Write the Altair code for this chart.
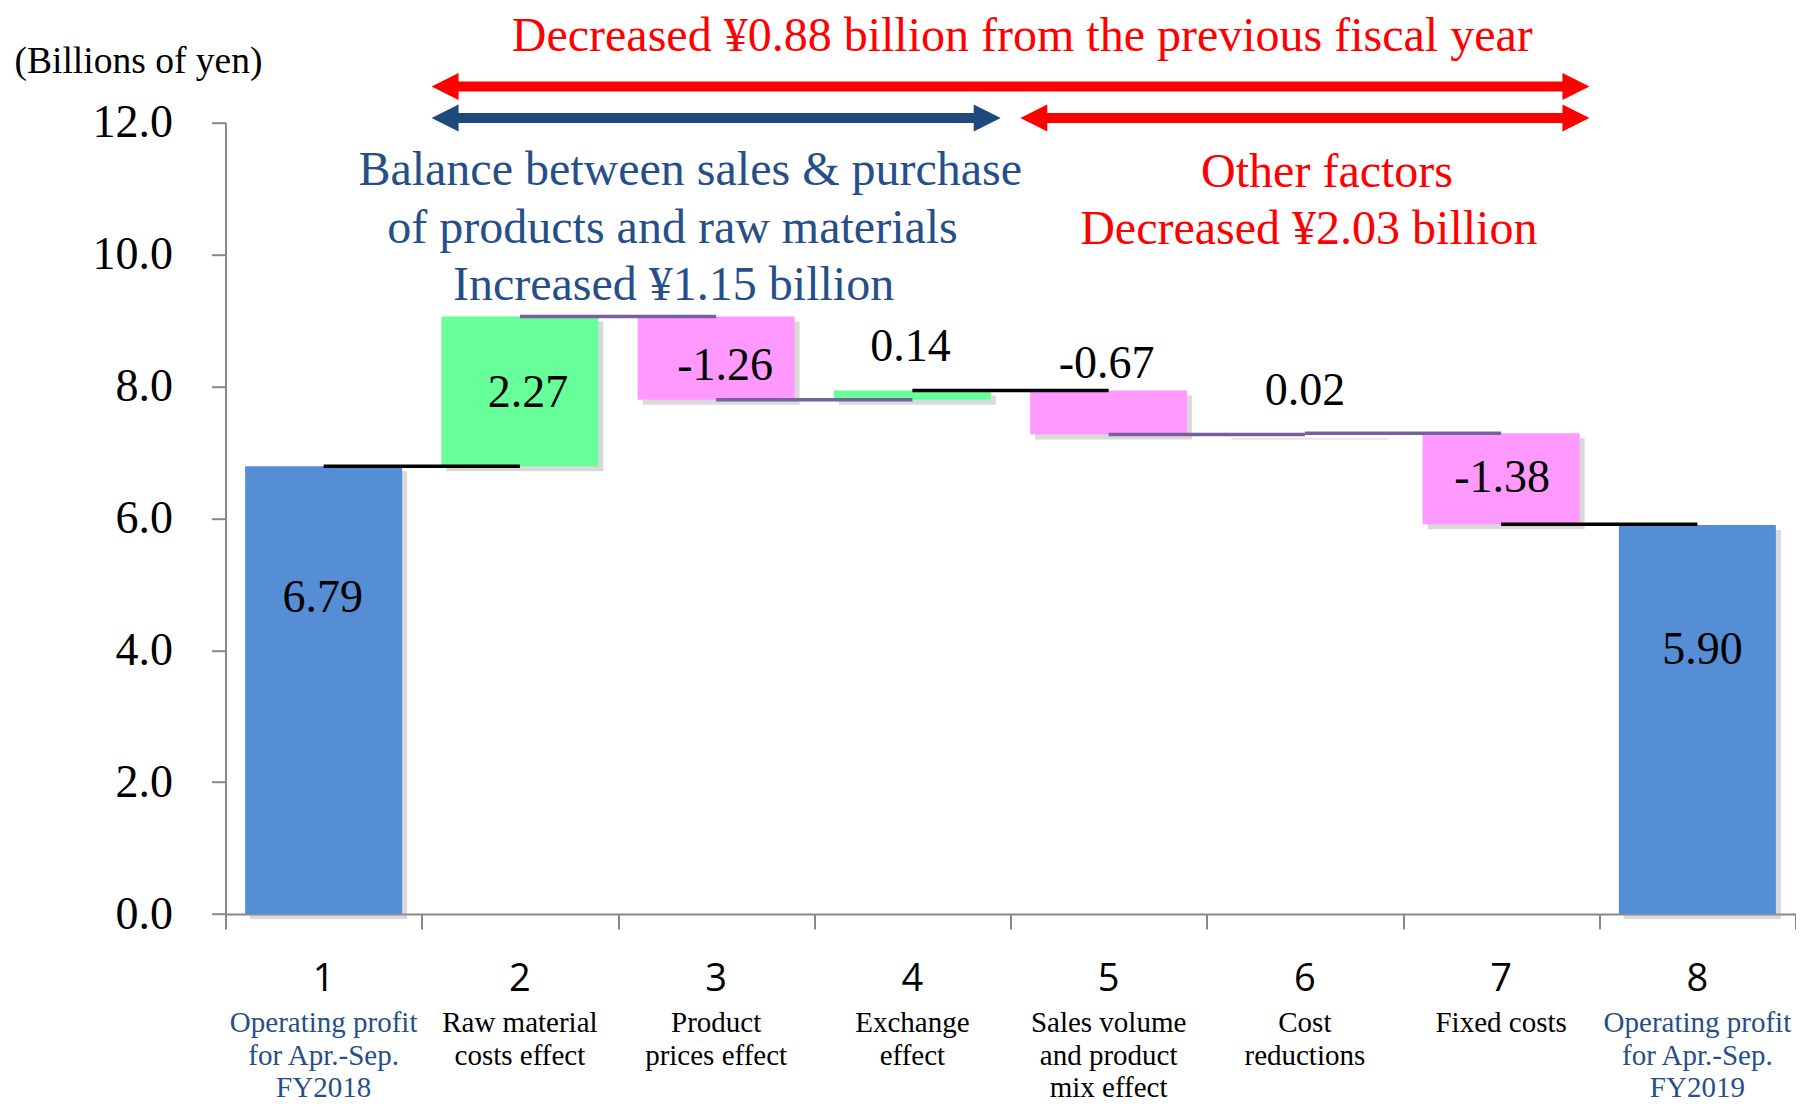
import altair as alt
import pandas as pd

# ---------------- data ----------------
categories = [1, 2, 3, 4, 5, 6, 7, 8]
category_names = [
    ["Operating profit", "for Apr.-Sep.", "FY2018"],
    ["Raw material", "costs effect"],
    ["Product", "prices effect"],
    ["Exchange", "effect"],
    ["Sales volume", "and product", "mix effect"],
    ["Cost", "reductions"],
    ["Fixed costs"],
    ["Operating profit", "for Apr.-Sep.", "FY2019"],
]
values = [6.79, 2.27, -1.26, 0.14, -0.67, 0.02, -1.38, 5.90]
is_total = [True, False, False, False, False, False, False, True]
value_labels = ["6.79", "2.27", "-1.26", "0.14", "-0.67", "0.02", "-1.38", "5.90"]
connector_colors = ["#000000", "#7A5F9E", "#7A5F9E", "#000000", "#7A5F9E", "#7A5F9E", "#000000"]

y_ticks = [0, 2, 4, 6, 8, 10, 12]
y_title = "(Billions of yen)"

# annotation arrows: spanning category groups
arrow_from = [2, 2, 5]
arrow_to = [7, 4, 7]
arrow_colors = ["#FF0000", "#1F497D", "#FF0000"]
arrow_levels = [12.55, 12.07, 12.07]

annot_text = [
    "Decreased ¥0.88 billion from the previous fiscal year",
    "Balance between sales & purchase",
    "of products and raw materials",
    "Increased ¥1.15 billion",
    "Other factors",
    "Decreased ¥2.03 billion",
]
annot_x = [4.56, 2.868, 2.778, 2.783, 6.113, 6.02]
annot_y = [13.30, 11.265, 10.39, 9.52, 11.23, 10.375]
annot_color = ["#FF0000", "#264F8A", "#264F8A", "#264F8A", "#FF0000", "#FF0000"]

# label nudges (pixels)
label_dx = [-1, 8, 9, -2, -2, 0, 1, 5]
label_dy = [-92, 2, 8, -43, -26, -42, -1, -69]

# ---------------- layout ----------------
W = 1570
H = 791.3
SERIF = "Liberation Serif"
GRAY = "#888888"
C_TOTAL, C_UP, C_DOWN = "#558ED5", "#66FF99", "#FF99FF"

# ---------------- build tables ----------------
rows = []
run = 0.0
for c, v, t in zip(categories, values, is_total):
    if t:
        s, e = 0.0, v
    else:
        s, e = run, run + v
    run = e
    kind = "total" if t else ("up" if v >= 0 else "down")
    rows.append(dict(cat=c, lo=c - 0.4, hi=c + 0.4, start=s, end=e, kind=kind))
bars = pd.DataFrame(rows)
bars["color"] = bars["kind"].map({"total": C_TOTAL, "up": C_UP, "down": C_DOWN})

lab = bars.copy()
lab["label"] = value_labels
lab["anchor"] = [
    (r.start + r.end) / 2 if (t or abs(v) >= 1) else max(r.start, r.end)
    for r, t, v in zip(bars.itertuples(), is_total, values)
]

conn = pd.DataFrame(
    dict(
        x=categories[:-1],
        x2=categories[1:],
        y=bars["end"].tolist()[:-1],
        color=connector_colors,
    )
)

inset = 0.05
arrows = pd.DataFrame(
    dict(
        left=[a - 0.5 + inset for a in arrow_from],
        right=[b + 0.5 - inset for b in arrow_to],
        y=arrow_levels,
        color=arrow_colors,
    )
)

annots = pd.DataFrame(dict(text=annot_text, x=annot_x, y=annot_y, color=annot_color))

cats = pd.DataFrame(
    dict(
        cat=categories,
        num=[str(c) for c in categories],
        name=["\n".join(n) for n in category_names],
        color=["#264F8A" if t else "#000000" for t in is_total],
    )
)

# ---------------- scales/axes ----------------
x_scale = alt.Scale(domain=[0.5, 8.5], nice=False, zero=False)
y_scale = alt.Scale(domain=[0, 12], nice=False, zero=False)
x_axis = alt.Axis(
    title=None, values=[i + 0.5 for i in range(0, 9)], labels=False, grid=False,
    tickSize=15, tickColor=GRAY, tickWidth=2, domainColor=GRAY, domainWidth=2,
)
y_axis = alt.Axis(
    title=y_title, values=y_ticks, format=".1f", grid=False,
    labelFont=SERIF, labelFontSize=46, labelColor="#000000", labelPadding=39,
    tickSize=14, tickColor=GRAY, tickWidth=2, domainColor=GRAY, domainWidth=2,
    titleAngle=0, titleAlign="left", titleBaseline="middle", titleX=-211.5, titleY=-61,
    titleFont=SERIF, titleFontSize=37.5, titleFontWeight="normal", titleColor="#000000",
)


def X(f):
    return alt.X(f, type="quantitative", scale=x_scale, axis=x_axis)


def Y(f):
    return alt.Y(f, type="quantitative", scale=y_scale, axis=y_axis)


base_bars = alt.Chart(bars)

shadow = base_bars.mark_bar(
    color="#a0a0a0", opacity=0.4, xOffset=5, x2Offset=5, yOffset=5, y2Offset=5
).encode(x=X("lo"), x2="hi", y=Y("start"), y2="end")

bar_layer = base_bars.mark_bar().encode(
    x=X("lo"), x2="hi", y=Y("start"), y2="end",
    color=alt.Color("color:N", scale=None),
)

conn_layer = alt.Chart(conn).mark_rule(strokeWidth=3.5).encode(
    x=X("x"), x2="x2", y=Y("y"), color=alt.Color("color:N", scale=None)
)

label_layers = []
for i in range(len(categories)):
    label_layers.append(
        alt.Chart(lab.iloc[[i]]).mark_text(
            font=SERIF, fontSize=46, color="#000000", baseline="middle",
            dx=label_dx[i], dy=label_dy[i],
        ).encode(x=X("cat"), y=Y("anchor"), text="label:N")
    )

shaft = alt.Chart(arrows).mark_rule(strokeWidth=10, xOffset=20, x2Offset=-20).encode(
    x=X("left"), x2="right", y=Y("y"), color=alt.Color("color:N", scale=None)
)
head_l = alt.Chart(arrows).mark_point(
    shape="M2,-1L0,0L2,1Z", size=729, filled=True, opacity=1, strokeWidth=0
).encode(x=X("left"), y=Y("y"), color=alt.Color("color:N", scale=None))
head_r = alt.Chart(arrows).mark_point(
    shape="M-2,-1L0,0L-2,1Z", size=729, filled=True, opacity=1, strokeWidth=0
).encode(x=X("right"), y=Y("y"), color=alt.Color("color:N", scale=None))

annot_layer = alt.Chart(annots).mark_text(
    font=SERIF, fontSize=48, baseline="middle", align="center"
).encode(x=X("x"), y=Y("y"), text="text:N", color=alt.Color("color:N", scale=None))

num_layer = alt.Chart(cats).mark_text(
    font="Open Sans", fontSize=38, baseline="middle", color="#000000"
).encode(x=X("cat"), y=alt.value(H + 65.5), text="num:N")

name_layer = alt.Chart(cats).mark_text(
    font=SERIF, fontSize=29, baseline="alphabetic", lineBreak="\n", lineHeight=32.5
).encode(
    x=X("cat"), y=alt.value(H + 118), text="name:N",
    color=alt.Color("color:N", scale=None),
)

chart = alt.layer(
    shadow, bar_layer, conn_layer, *label_layers, shaft, head_l, head_r,
    annot_layer, num_layer, name_layer,
).properties(
    width=W, height=H,
    autosize=alt.AutoSizeParams(type="none"),
    padding={"left": 217.5, "top": 114.7, "right": 0.5, "bottom": 190},
    background="white",
).configure_view(stroke=None)

chart.save("out.html", embed_options={"renderer": "svg", "actions": False})
